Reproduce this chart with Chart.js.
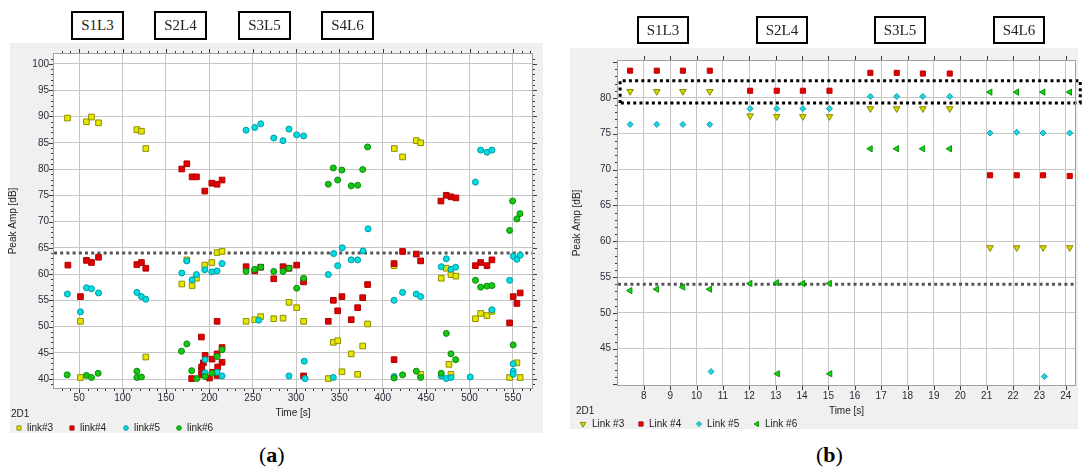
<!DOCTYPE html>
<html><head><meta charset="utf-8">
<script src="https://cdn.jsdelivr.net/npm/chart.js@4.4.1/dist/chart.umd.min.js"></script>
<style>
html,body{margin:0;padding:0;background:#fff;width:1083px;height:471px;overflow:hidden;font-family:"Liberation Sans",Arial,sans-serif;}
.panel{position:absolute;background:#f0f0f0;}
canvas{position:absolute;}
.tag{position:absolute;box-sizing:border-box;border:2px solid #000;background:#fff;font-family:"Liberation Serif","Times New Roman",serif;font-size:15px;color:#222;display:flex;align-items:center;justify-content:center;height:29px;width:53px;}
.cap{position:absolute;font-family:"Liberation Serif","Times New Roman",serif;font-size:22px;color:#000;line-height:22px;}
</style></head>
<body>
<div class="panel" style="left:10px;top:43px;width:533px;height:390px"></div>
<div class="panel" style="left:570px;top:48px;width:508px;height:381px"></div>
<canvas id="ca" width="543" height="390" style="left:0;top:43px;width:543px;height:390px"></canvas>
<canvas id="cb" width="523" height="381" style="left:560px;top:48px;width:523px;height:381px"></canvas>

<div class="tag" style="left:71px;top:11px">S1L3</div>
<div class="tag" style="left:154px;top:11px">S2L4</div>
<div class="tag" style="left:238px;top:11px">S3L5</div>
<div class="tag" style="left:321px;top:11px">S4L6</div>
<div class="tag" style="left:637px;top:16px;width:52px;height:28px">S1L3</div>
<div class="tag" style="left:756px;top:16px;width:52px;height:28px">S2L4</div>
<div class="tag" style="left:874px;top:16px;width:52px;height:28px">S3L5</div>
<div class="tag" style="left:993px;top:16px;width:52px;height:28px">S4L6</div>
<div class="cap" style="left:259px;top:444px">(<b>a</b>)</div>
<div class="cap" style="left:816px;top:444px">(<b>b</b>)</div>

<script>
// ---------------- Panel (a) data: [time s, peak amp dB] ----------------
const A_LINK3 = [[36.5,89.7],[58.4,89.0],[64.2,89.9],[72.3,88.8],[116.5,87.5],[121.8,87.2],[126.8,83.9],
  [51.5,51.0],[51.5,40.3],[126.8,44.2],
  [168.3,58.1],[174.1,62.7],[180.2,57.8],[185.2,59.2],[194.8,61.7],[202.9,62.2],[209,64.1],[214.7,64.3],
  [242.4,51.0],[252.4,51.3],[259.3,51.9],[274.3,51.5],[285,51.6],[291.9,54.6],[300.7,53.6],[308.7,51.0],
  [337.2,40.1],[343,47.0],[348,47.3],[352.9,41.4],[363.6,44.8],[371,40.9],[376.8,46.3],[382.5,50.5],
  [413.3,83.9],[422.8,82.3],[438.6,85.4],[443.6,85.0],[413,61.6],[443.6,40.9],
  [467.4,59.2],[473.2,61.1],[478.6,59.9],[484.2,59.6],[476.3,42.8],[478.6,40.9],
  [506.8,51.5],[512.8,52.5],[520.1,52.1],[525.8,52.9],[546.2,40.3],[554.6,43.1],[558.4,40.3]];
const A_LINK4 = [[168.3,80.0],[174.1,81.0],[180.2,78.5],[185.2,78.5],[194.8,75.8],[202.9,77.3],[209,77.1],[214.7,77.9],
  [467,73.9],[473.2,75.0],[478.6,74.7],[484.3,74.5],
  [37,61.7],[51.5,55.7],[58.4,62.6],[64.2,62.2],[72.3,63.2],[116.5,61.8],[121.8,62.2],[126.8,61.1],
  [190.9,48.0],[179.7,40.1],[195.2,44.5],[193.2,43.1],[191.2,42.3],[191.2,41.6],[191.2,40.8],[200.2,40.2],
  [203.2,43.8],[204,41.3],[209,44.8],[209.7,42.3],[209,40.7],[214.7,46.0],[214.7,43.2],[209,51.0],
  [242.4,61.4],[252.4,60.6],[259.3,61.3],[274.3,59.1],[285,61.4],[291.9,61.1],[300.7,61.7],[308.7,58.5],[308.7,40.6],
  [337.2,51.0],[343,55.0],[348,53.0],[352.9,55.7],[363.6,51.3],[371,53.6],[376.8,55.5],[382.5,58.0],
  [413,62.0],[413,43.7],[422.8,64.3],[438.6,63.8],[443.6,62.5],
  [506.8,61.6],[512.8,62.2],[520.1,61.6],[525.8,62.7],
  [546.2,50.7],[550.3,55.7],[554.6,54.4],[558.4,56.4]];
const A_LINK5 = [[242.4,87.4],[252.4,87.9],[259.3,88.6],[274.3,85.9],[285,85.4],[291.9,87.6],[300.7,86.5],[308.7,86.3],
  [512.8,83.6],[520.1,83.2],[525.8,83.6],[506.8,77.5],[383,68.6],
  [353.3,65.0],[343.4,63.9],[377.2,64.4],[550.3,63.4],[554.6,62.8],[558.4,63.6],[363.6,62.7],[371,62.7],[473.2,62.9],
  [36.5,56.2],[51.5,52.8],[58.4,57.4],[64.2,57.2],[72.3,56.4],[116.5,56.5],[121.8,55.7],[126.8,55.2],
  [168.3,60.2],[174.1,62.5],[180.2,58.9],[185.2,59.9],[194.8,60.8],[202.9,60.4],[209,60.6],[214.7,62.0],
  [195.2,43.7],[195.2,41.2],[209,41.3],[214.7,40.6],
  [257,51.2],[291.9,40.6],[309.5,43.4],[310.4,40.1],
  [337.2,59.9],[343,40.3],[348,61.6],
  [413,55.0],[413,40.5],[422.8,56.5],[438.6,56.2],[443.6,55.7],
  [467.4,61.4],[478.6,60.9],[484,61.3],[467.4,40.6],[473.2,40.1],[478.6,40.3],[500.8,40.4],
  [525.8,53.2],[546.2,58.8],[550.3,42.9],[550.3,41.5],[550.3,40.9]];
const A_LINK6 = [[337.2,77.1],[343,80.2],[348,77.9],[352.9,79.8],[363.6,76.8],[371,76.9],[376.8,79.9],[382.5,84.2],
  [549.6,73.9],[558.1,71.5],[554.6,70.5],[546.2,68.3],
  [36.2,40.8],[58.4,40.7],[64.2,40.3],[71.9,41.1],[116.5,41.5],[116.5,40.3],[121.8,40.4],
  [167.9,45.3],[174.1,46.7],[179.7,41.6],[185.6,40.1],[195.2,40.5],[203.2,41.1],[209,44.3],[214.7,45.6],
  [242.4,60.5],[252.4,60.9],[259.3,61.3],[274.3,60.5],[285,60.5],[291.9,61.1],[300.7,57.3],[308.7,59.2],
  [413,40.2],[422.8,40.8],[438.6,41.5],[443.6,40.3],[467.4,41.1],[473.2,48.7],[478.6,44.8],[484,43.7],
  [506.8,58.8],[512.8,57.5],[520.1,57.7],[525.8,57.8],[550.3,46.5]];
const A_THRESHOLD = 64;
const A_X_TICKS = [50,100,150,200,250,300,350,400,450,500,550];
const A_Y_TICKS = [40,45,50,55,60,65,70,75,80,85,90,95,100];
const A_LABELS = ['link#3','link#4','link#5','link#6'];

// ---------------- Panel (b) data ----------------
const B_TIME  = [7.48,8.49,9.48,10.5,12.03,13.04,14.03,15.04,16.59,17.59,18.58,19.6,21.13,22.14,23.14,24.15];
const B_LINK3 = [80.9,80.9,80.9,80.9,77.5,77.4,77.4,77.4,78.5,78.5,78.5,78.5,59.1,59.1,59.1,59.1];
const B_LINK4 = [83.8,83.8,83.8,83.8,81.0,81.0,81.0,81.0,83.5,83.5,83.4,83.4,69.2,69.2,69.2,69.1];
const B_LINK5 = [76.3,76.3,76.3,76.3,78.5,78.5,78.5,78.5,80.2,80.2,80.2,80.2,75.1,75.2,75.1,75.1];
const B_LINK6 = [53.1,53.3,53.6,53.3,54.1,54.2,54.1,54.1,72.9,72.9,72.9,72.9,80.8,80.8,80.8,80.8];
const B_LINK5_EXTRA = [[10.55,41.8],[23.19,41.1]];
const B_LINK6_EXTRA = [[13.07,41.5],[15.06,41.5]];
const B_THRESHOLD = 54;
const B_BAND = [79.3, 82.4];
const B_BAND_T = [7.1, 24.55];
const B_X_TICKS = [8,9,10,11,12,13,14,15,16,17,18,19,20,21,22,23,24];
const B_Y_TICKS = [45,50,55,60,65,70,75,80];
const B_LABELS = ['Link #3','Link #4','Link #5','Link #6'];

const FONT = '"Liberation Sans", Arial, sans-serif';
Chart.defaults.font.family = FONT;
Chart.defaults.font.size = 10;
Chart.defaults.color = '#2a2a38';

const pairs = arr => arr.map(p => ({x: p[0], y: p[1]}));
const zip = (xs, ys) => xs.map((x, i) => ({x, y: ys[i]}));

function decor(cfg) {
  return {
    id: 'decor_' + cfg.name,
    beforeDraw(chart) {
      const {ctx, chartArea: a} = chart;
      ctx.save(); ctx.fillStyle = '#fff';
      ctx.fillRect(a.left, a.top, a.right - a.left, a.bottom - a.top);
      ctx.restore();
    },
    afterDraw(chart) {
      const {ctx, chartArea: a} = chart;
      const xs = chart.scales.x, ys = chart.scales.y;
      ctx.save();
      ctx.strokeStyle = '#a0a0a0'; ctx.lineWidth = 1;
      ctx.strokeRect(a.left - 0.5, a.top - 0.5, a.right - a.left + 1, a.bottom - a.top + 1);
      ctx.strokeStyle = '#3a3a3a';
      ctx.beginPath();
      // y ticks
      const y0 = Math.ceil(ys.min), y1 = Math.floor(ys.max);
      for (let v = y0; v <= y1; v += cfg.yMinor) {
        const p = Math.round(ys.getPixelForValue(v)) + 0.5;
        const L = (v % cfg.yMajor === 0) ? 4 : 2;
        ctx.moveTo(a.left - 1 - L, p); ctx.lineTo(a.left - 1, p);
        if (cfg.rightTicks) { ctx.moveTo(a.right + 1, p); ctx.lineTo(a.right + 1 + L, p); }
      }
      // x ticks top & bottom
      const x0 = Math.ceil(xs.min / cfg.xMinor), x1 = Math.floor(xs.max / cfg.xMinor);
      for (let k = x0; k <= x1; k++) {
        const v = k * cfg.xMinor;
        const p = Math.round(xs.getPixelForValue(v)) + 0.5;
        const major = (v % cfg.xMajor === 0);
        const L = major ? 4 : 2;
        ctx.moveTo(p, a.top - 1 - L); ctx.lineTo(p, a.top - 1);
        ctx.moveTo(p, a.bottom + 1); ctx.lineTo(p, a.bottom + 1 + L);
      }
      ctx.stroke();
      // "2D1" caption
      ctx.fillStyle = '#222'; ctx.font = '10px ' + FONT; ctx.textBaseline = 'middle'; ctx.textAlign = 'left';
      ctx.fillText('2D1', cfg.capX, cfg.capY);
      // legend
      chart.data.datasets.forEach((ds, i) => {
        if (!ds.legendPos) return;
        const [mx, tx] = ds.legendPos;
        const st = {pointStyle: ds.pointStyle, rotation: ds.rotation || 0, radius: ds.legendRadius, borderWidth: 1};
        ctx.fillStyle = ds.backgroundColor; ctx.strokeStyle = ds.borderColor; ctx.lineWidth = 1;
        if (Chart.helpers && Chart.helpers.drawPoint) {
          Chart.helpers.drawPoint(ctx, st, mx, cfg.legY);
        } else {
          ctx.fillRect(mx - 2, cfg.legY - 2, 4, 4);
        }
        ctx.fillStyle = '#222';
        ctx.fillText(ds.label, tx, cfg.legY);
      });
      ctx.restore();
    }
  };
}

function baseOptions(g) {
  return {
    responsive: false, animation: false, devicePixelRatio: 1,
    layout: {padding: g.padding},
    plugins: {legend: {display: false}, tooltip: {enabled: false}},
    scales: {
      x: {
        type: 'linear', min: g.xMin, max: g.xMax,
        afterBuildTicks: s => { s.ticks = g.xTicks.map(v => ({value: v})); },
        afterFit: s => { s.height = g.xHeight; },
        grid: {color: '#c6c6c6', lineWidth: 1, drawTicks: false},
        border: {display: false},
        ticks: {padding: g.xTickPad, maxRotation: 0, autoSkip: false, font: {size: 10}},
        title: {display: true, text: 'Time [s]', font: {size: 10}, color: '#222', padding: {top: 0, bottom: g.xTitlePad}}
      },
      y: {
        type: 'linear', min: g.yMin, max: g.yMax,
        afterBuildTicks: s => { s.ticks = g.yTicks.map(v => ({value: v})); },
        afterFit: s => { s.width = g.yWidth; },
        grid: {color: '#c6c6c6', lineWidth: 1, drawTicks: false},
        border: {display: false},
        ticks: {padding: g.yTickPad, autoSkip: false, font: {size: 10}},
        title: {display: true, text: 'Peak Amp [dB]', font: {size: 10}, color: '#222', padding: {top: g.yTitlePad, bottom: 0}}
      }
    }
  };
}

// ---------------- Chart (a) ----------------
const ptA = (label, data, style, bg, bd, r, lp) => ({
  type: 'scatter', label, data: pairs(data), pointStyle: style, backgroundColor: bg, borderColor: bd,
  pointRadius: r, pointBorderWidth: 1, pointHoverRadius: r, legendPos: lp, legendRadius: style === 'rect' ? 2.9 : 2.3
});
const optA = baseOptions({
  padding: {left: 0, top: 7, right: 11, bottom: 0},
  xMin: 21, xMax: 572, yMin: 38.3, yMax: 101.9,
  xTicks: A_X_TICKS, yTicks: A_Y_TICKS,
  xHeight: 45, yWidth: 54, xTickPad: 4, yTickPad: 5, xTitlePad: 14, yTitlePad: 7
});
new Chart(document.getElementById('ca'), {
  data: {datasets: [
    ptA(A_LABELS[3], A_LINK6, 'circle', '#14c814', '#0b8a0b', 3, [179, 187]),
    ptA(A_LABELS[2], A_LINK5, 'circle', '#00dede', '#0098a8', 3, [126, 134]),
    ptA(A_LABELS[1], A_LINK4, 'rect', '#e00000', '#b00000', 4, [72, 80]),
    ptA(A_LABELS[0], A_LINK3, 'rect', '#e6e600', '#8f8f00', 4, [19, 27]),
    {type: 'scatter', label: 'threshold', showLine: true, data: [{x: 21, y: A_THRESHOLD}, {x: 572, y: A_THRESHOLD}],
     borderColor: '#555', borderWidth: 3, borderDash: [3, 3.2], pointRadius: 0, fill: false}
  ]},
  options: optA,
  plugins: [decor({name: 'a', yMinor: 1, yMajor: 5, xMinor: 10, xMajor: 50, rightTicks: true, capX: 11, capY: 371, legY: 385})]
});

// ---------------- Chart (b) ----------------
const ptB = (label, data, style, rot, bg, bd, r, lr, lp) => ({
  type: 'scatter', label, data, pointStyle: style, rotation: rot, backgroundColor: bg, borderColor: bd,
  pointRadius: r, pointBorderWidth: 1, pointHoverRadius: r, legendPos: lp, legendRadius: lr
});
const optB = baseOptions({
  padding: {left: 0, top: 6, right: 8, bottom: 0},
  xMin: 7.02, xMax: 24.35, yMin: 39.93, yMax: 85.15,
  xTicks: B_X_TICKS, yTicks: B_Y_TICKS,
  xHeight: 44, yWidth: 58, xTickPad: 5, yTickPad: 7, xTitlePad: 12, yTitlePad: 11
});
new Chart(document.getElementById('cb'), {
  data: {datasets: [
    ptB(B_LABELS[3], zip(B_TIME, B_LINK6).concat(pairs(B_LINK6_EXTRA)), 'triangle', 270, '#14d414', '#0a900a', 3.6, 3, [197, 205]),
    ptB(B_LABELS[2], zip(B_TIME, B_LINK5).concat(pairs(B_LINK5_EXTRA)), 'rectRot', 0, '#22d4e0', '#10a0b0', 3, 2.6, [139, 147]),
    ptB(B_LABELS[1], zip(B_TIME, B_LINK4), 'rect', 0, '#e00000', '#c00000', 3.6, 3, [81, 89]),
    ptB(B_LABELS[0], zip(B_TIME, B_LINK3), 'triangle', 180, '#d6d600', '#8a8a00', 3.8, 3.2, [23, 32]),
    {type: 'scatter', label: 'threshold', showLine: true, data: [{x: 7.02, y: B_THRESHOLD}, {x: 24.35, y: B_THRESHOLD}],
     borderColor: '#555', borderWidth: 3, borderDash: [3, 3.2], pointRadius: 0, fill: false},
    {type: 'scatter', label: 'band', showLine: true, clip: false,
     data: [{x: B_BAND_T[0], y: B_BAND[0]}, {x: B_BAND_T[0], y: B_BAND[1]}, {x: B_BAND_T[1], y: B_BAND[1]},
            {x: B_BAND_T[1], y: B_BAND[0]}, {x: B_BAND_T[0], y: B_BAND[0]}],
     borderColor: '#000', borderWidth: 3, borderDash: [3, 3.2], pointRadius: 0, fill: false}
  ]},
  options: optB,
  plugins: [decor({name: 'b', yMinor: 1, yMajor: 5, xMinor: 1, xMajor: 1, rightTicks: false, capX: 16, capY: 363, legY: 376})]
});
</script>
</body></html>
